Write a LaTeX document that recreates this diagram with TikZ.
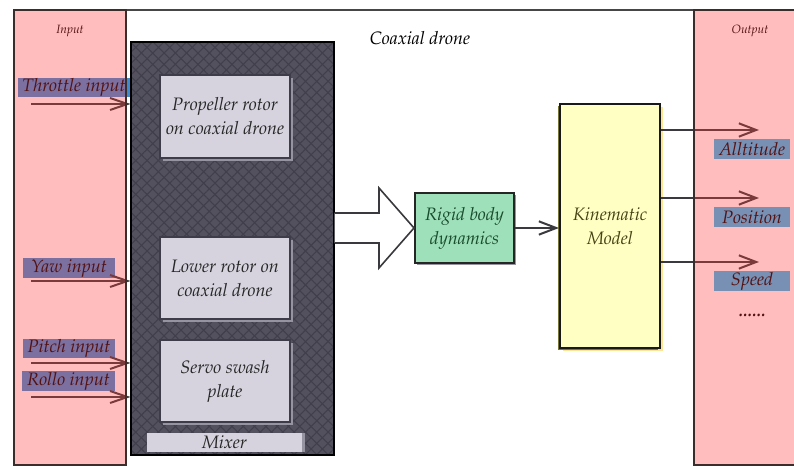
\documentclass[tikz,border=0pt]{standalone}
\usepackage[T1]{fontenc}
\usepackage{mathpazo}
\usetikzlibrary{arrows.meta, patterns.meta, shadows}

\definecolor{framegray}{RGB}{70,70,70}
\definecolor{mixfill}{RGB}{84,81,94}
\definecolor{mixline}{RGB}{66,63,76}
\definecolor{subfill}{RGB}{214,211,222}
\definecolor{subedge}{RGB}{62,60,72}
\definecolor{subshadow}{RGB}{150,148,160}
\definecolor{rigfill}{RGB}{157,224,185}
\definecolor{rigtext}{RGB}{25,75,45}
\definecolor{kinfill}{RGB}{255,255,195}
\definecolor{kintext}{RGB}{70,66,20}
\definecolor{kinglow}{RGB}{255,228,150}
\definecolor{kinolive}{RGB}{120,118,50}
\definecolor{arrowgray}{RGB}{58,58,62}
\definecolor{inblue}{RGB}{60,140,212}
\definecolor{outblue}{RGB}{54,188,242}
\definecolor{panelred}{RGB}{255,55,55}
\definecolor{panelline}{RGB}{60,45,45}

\begin{document}
\begin{tikzpicture}[x=0.75pt, y=-0.75pt,
    txt/.style={font=\itshape\fontsize{13.5}{16}\selectfont, align=center},
    subbox/.style={txt, draw=subedge, line width=1pt, fill=subfill, text=black!85,
        drop shadow={shadow xshift=2pt, shadow yshift=-2pt, fill=subshadow, opacity=1}},
    inlabel/.style={txt, fill=inblue, text=black, minimum height=14.5pt, inner sep=0pt},
    outlabel/.style={txt, fill=outblue, text=black, minimum width=57pt, minimum height=15pt, inner sep=0pt},
    inarrow/.style={draw=arrowgray, line width=1.5pt, -{Straight Barb[length=13pt, width=9pt]}},
    outarrow/.style={draw=arrowgray, line width=1.5pt, -{Straight Barb[length=13pt, width=10pt]}},
    panel/.style={draw=panelline, line width=0.8pt, fill=panelred, fill opacity=0.33}
]
    \useasboundingbox (0,0) rectangle (794,466);

    % frame
    \draw[framegray, line width=1.5pt] (14,10) -- (794,10);
    \node[txt] (title) at (420,38) {Coaxial drone};

    % mixer
    \node[draw=black, line width=1.5pt, minimum width=152.25pt, minimum height=309.75pt,
        preaction={fill=mixfill},
        preaction={pattern={Lines[angle=-45, distance=6pt, line width=0.8pt]}, pattern color=mixline},
        pattern={Lines[angle=45, distance=6pt, line width=0.8pt]}, pattern color=mixline]
        (mix) at (232.5,248.5) {};
    \node[subbox, minimum width=97.5pt, minimum height=62.25pt] (prop) at (225,116.5)
        {Propeller rotor\\[2pt]on coaxial drone};
    \node[subbox, minimum width=97.5pt, minimum height=61.5pt] (lower) at (225,278)
        {Lower rotor on\\[2pt]coaxial drone};
    \node[subbox, minimum width=97.5pt, minimum height=61.5pt] (servo) at (225,381)
        {Servo swash\\[2pt]plate};
    \node[txt, fill=subfill, text=black!85, minimum width=116.25pt, minimum height=14.25pt, inner sep=0pt,
        drop shadow={shadow xshift=2pt, shadow yshift=0pt, fill=subshadow, opacity=1}]
        (mixer) at (224.5,442.5) {Mixer};

    % rigid body and kinematic model
    \node[txt, draw=black!85, line width=1.5pt, fill=rigfill, text=rigtext, minimum width=74.25pt, minimum height=52.5pt,
        drop shadow={shadow xshift=1.5pt, shadow yshift=-1.5pt, fill=subshadow, opacity=1}]
        (rig) at (464.5,228) {Rigid body\\[2pt]dynamics};
    \node[txt, draw=black!90, line width=1.5pt, fill=kinfill, text=kintext, minimum width=75pt, minimum height=183pt,
        general shadow={shadow xshift=2.5pt, shadow yshift=-2.5pt, fill=kinglow},
        general shadow={shadow xshift=-1.5pt, shadow yshift=-1.5pt, fill=kinolive}]
        (kin) at (610,226) {Kinematic\\[2pt]Model};

    % hollow arrow
    \draw[draw=arrowgray, line width=1.2pt, fill=white]
        (mix.east |- 0,213) -- (379,213) -- (379,188) -- (rig.west) -- (379,268) -- (379,243) -- (mix.east |- 0,243);
    \draw[outarrow] (rig.east) -- (rig.east -| kin.west);

    % inputs
    \foreach \ay/\ly/\lx/\w/\name/\txt in {104/87.5/74/84pt/thr/Throttle input, 281/268/69/69pt/yaw/Yaw input,
                                          363/348.5/69/69pt/pit/Pitch input, 397/381/68.5/70pt/rol/Rollo input}
        {
            \node[inlabel, minimum width=\w] (\name) at (\lx,\ly) {\txt};
            \coordinate (\name-a) at (31,\ay);
            \draw[inarrow] (\name-a) -- (\name-a -| mix.west);
        }

    % outputs
    \foreach \ay/\name/\txt in {130/alt/Alltitude, 198/pos/Position, 262/spd/Speed}
        {
            \coordinate (\name-a) at (759,\ay);
            \draw[outarrow] (\name-a -| kin.east) -- (\name-a);
            \node[outlabel] (\name) at (752,\ay+19) {\txt};
        }
    \node[txt] (more) at (752,315) {\textbf{......}};

    % panels
    \node[font=\itshape\fontsize{9}{10}\selectfont] (intitle) at (70,31) {Input};
    \node[font=\itshape\fontsize{9}{10}\selectfont] (outtitle) at (750,31) {Output};
    \draw[panel] (14,10) rectangle (126,465);
    \draw[panel] (694,10) rectangle (800,465);

\end{tikzpicture}
\end{document}
